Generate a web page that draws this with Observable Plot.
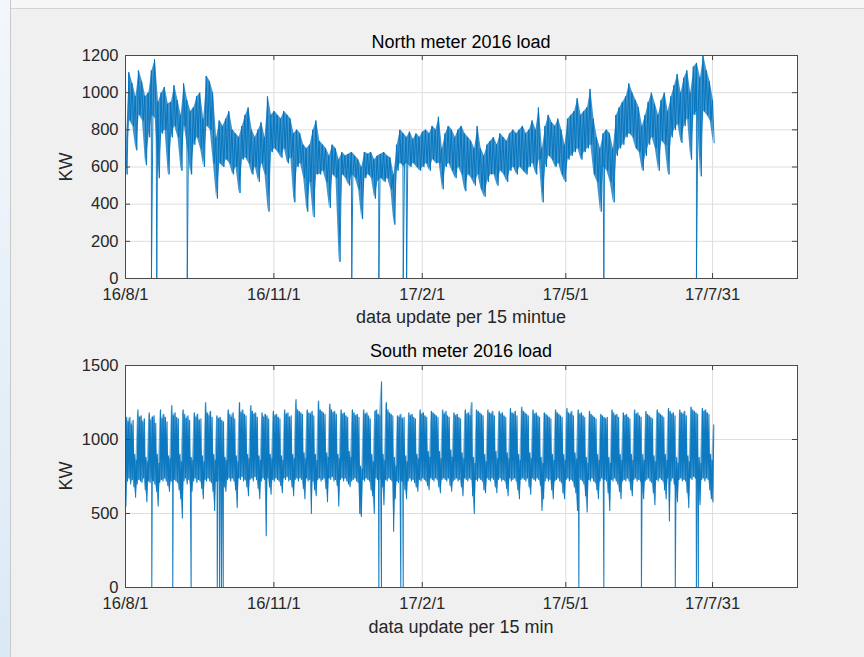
<!DOCTYPE html>
<html><head><meta charset="utf-8">
<script src="https://cdn.jsdelivr.net/npm/d3@7"></script>
<script src="https://cdn.jsdelivr.net/npm/@observablehq/plot@0.6"></script>
<style>
body{margin:0;width:864px;height:657px;overflow:hidden;background:#f0f0f0;font-family:"Liberation Sans",Arial,Helvetica,sans-serif;position:relative}
#desk{position:absolute;left:0;top:0;width:10px;height:657px;background:linear-gradient(#f3f7fb,#dbe9f5);border-right:1px solid #c9c9c9}
#topbar{position:absolute;left:11px;top:0;width:853px;height:8px;background:#f6f6f6;border-bottom:1px solid #d4d4d4}
.ttl{position:absolute;left:125px;width:672px;text-align:center;font-size:18px;line-height:18px;color:#000;white-space:nowrap}
.xl{position:absolute;left:125px;width:672px;text-align:center;font-size:18px;line-height:18px;color:#262626;white-space:nowrap}
.yl{position:absolute;left:16px;width:100px;text-align:center;font-size:18px;line-height:18px;color:#262626;transform:rotate(-90deg)}
.chart{position:absolute;left:0}
</style></head>
<body>
<div id="desk"></div><div id="topbar"></div>
<div class="ttl" style="top:33px">North meter 2016 load</div>
<div class="xl" style="top:308px">data update per 15 mintue</div>
<div class="yl" style="top:157.5px">KW</div>
<div class="ttl" style="top:342px">South meter 2016 load</div>
<div class="xl" style="top:618px">data update per 15 min</div>
<div class="yl" style="top:467px">KW</div>
<div id="north" class="chart" style="top:30px"></div>
<div id="south" class="chart" style="top:340px"></div>
<script>
// ---- data ----
const startDate = "2016-08-01";
const xLimitDays = 40000 / 96;           // axis limit (40000 samples of 15 min)
const tickDates = ["2016-08-01", "2016-11-01", "2017-02-01", "2017-05-01", "2017-07-31"];
const northTicks = [0, 200, 400, 600, 800, 1000, 1200];
const southTicks = [0, 500, 1000, 1500];

// North meter: every 2 days, daily peak (hi) then trough (lo), KW
const northHi = [
  720,1110,1050,980,1120,1060,980,1000,1120,1180,
  950,1000,1030,940,950,1040,960,880,1050,960,
  900,920,980,1000,860,1090,1060,1000,760,850,
  820,860,900,800,780,760,820,880,920,800,
  760,800,840,760,980,880,900,880,860,900,
  880,860,780,800,780,720,700,720,800,850,
  740,720,700,660,720,700,640,680,660,670,
  680,660,640,600,680,670,680,640,660,670,
  680,660,650,560,720,800,780,760,790,750,
  780,760,790,800,780,820,800,870,700,780,
  820,800,760,800,820,780,760,740,700,820,
  700,660,720,740,760,720,780,760,740,780,
  800,780,800,820,780,800,850,800,920,700,
  820,880,840,820,860,800,720,860,880,900,
  970,880,900,920,1020,860,760,700,780,800,
  780,700,880,920,950,980,1050,1000,960,920,
  820,880,950,1000,940,880,960,1000,900,980,
  1040,1100,1000,1080,1120,1000,1140,1160,1080,1200,
  1120,1060,960
];
const northLo = [
  560,850,820,690,880,850,610,760,880,860,
  540,780,800,560,760,820,760,580,820,700,
  560,720,760,700,600,820,800,620,430,620,
  600,640,620,560,600,460,640,650,620,560,
  600,520,620,560,360,680,700,680,650,700,
  620,650,410,600,620,540,360,520,330,560,
  560,580,520,380,560,540,90,560,540,500,
  560,540,480,320,540,560,540,430,520,540,
  520,540,480,290,580,620,600,620,600,620,
  600,580,600,620,580,640,620,620,480,600,
  620,580,540,600,560,470,560,540,500,560,
  480,440,520,560,560,500,580,560,520,580,
  600,560,600,580,560,600,620,560,640,410,
  600,660,640,600,620,560,520,640,660,680,
  700,640,680,700,720,560,520,360,600,580,
  520,410,660,700,720,760,780,760,700,680,
  580,660,720,760,700,580,740,720,560,760,
  800,830,730,820,860,640,880,900,550,900,
  880,850,730
];
// North drop-outs to 0 KW (day number since 2016-08-01)
const northDrops = [16.1, 19.4, 38.3, 140.3, 157.1, 172.2, 174.3, 296.6, 354.0];

// South meter: one row per week (Mon..Sun), daily peak (hi) and trough (lo), KW
const southHi = [
  1150,1120,1150,1100,1130,900,860,
  1200,1150,1160,1120,1140,880,850,
  1180,1130,1150,1160,1110,900,840,
  1200,1140,1170,1150,1120,890,870,
  1230,1160,1180,1150,1140,900,850,
  1200,1170,1140,1160,1130,880,860,
  1180,1150,1170,1130,1140,890,850,
  1250,1180,1160,1190,1150,900,860,
  1160,1140,1150,1130,1120,880,860,
  1200,1170,1150,1180,1140,890,850,
  1250,1180,1200,1170,1160,900,870,
  1230,1190,1170,1180,1150,890,860,
  1180,1150,1170,1160,1140,900,870,
  1190,1160,1170,1150,1140,890,860,
  1200,1170,1180,1150,1160,900,870,
  1270,1200,1190,1180,1170,910,870,
  1200,1180,1170,1190,1160,900,860,
  1260,1200,1190,1180,1170,910,880,
  1240,1200,1180,1190,1170,900,870,
  1200,1170,1180,1160,1150,920,880,
  1200,1180,1160,1170,1150,820,800,
  1200,1170,1180,1160,1140,900,850,
  1190,1200,1170,1160,1390,900,860,
  1250,1200,1180,1170,1160,880,820,
  1160,1150,1170,1140,1150,890,850,
  1180,1160,1170,1150,1140,900,870,
  1200,1170,1180,1160,1150,920,880,
  1190,1180,1170,1160,1150,920,870,
  1200,1170,1190,1160,1150,930,880,
  1180,1160,1170,1150,1140,910,870,
  1200,1170,1180,1160,1250,880,840,
  1200,1190,1180,1170,1160,900,850,
  1200,1180,1170,1190,1160,920,870,
  1190,1170,1180,1160,1150,910,870,
  1210,1180,1170,1190,1160,900,860,
  1220,1190,1180,1170,1160,910,870,
  1200,1170,1180,1160,1150,880,840,
  1180,1170,1160,1150,1140,900,860,
  1200,1180,1170,1160,1150,900,860,
  1210,1180,1170,1190,1160,910,870,
  1200,1170,1180,1160,1150,880,840,
  1190,1170,1160,1150,1140,900,860,
  1170,1160,1150,1140,1150,880,840,
  1200,1180,1160,1170,1150,900,860,
  1180,1160,1170,1150,1140,900,860,
  1200,1170,1180,1160,1150,900,860,
  1190,1170,1160,1150,1140,890,850,
  1200,1180,1170,1160,1150,900,860,
  1210,1190,1170,1180,1160,880,840,
  1200,1180,1170,1190,1160,890,850,
  1220,1200,1190,1180,1170,880,840,
  1210,1190,1200,1180,1170,900,860,
  1100
];
const southLo = [
  550,720,740,700,730,680,610,
  700,730,720,710,740,660,580,
  720,710,740,720,700,650,550,
  710,730,720,740,720,690,650,
  720,700,730,720,710,660,600,
  470,720,740,700,730,680,650,
  720,740,710,730,720,670,600,
  730,720,740,720,710,650,520,
  720,700,730,710,720,680,650,
  730,740,720,740,720,660,540,
  740,730,750,720,730,680,620,
  730,740,720,750,730,670,600,
  720,740,730,350,740,680,630,
  730,720,740,730,720,690,640,
  740,730,750,720,730,680,620,
  730,740,720,740,730,670,600,
  740,720,730,500,720,660,620,
  730,740,720,730,740,670,580,
  740,730,750,720,730,690,550,
  730,740,720,740,720,700,680,
  720,730,740,720,710,500,480,
  730,720,740,730,720,660,620,
  500,740,730,720,730,680,560,
  730,720,740,730,720,380,600,
  720,710,730,720,700,660,600,
  720,740,720,730,710,680,650,
  730,720,740,730,720,690,660,
  740,730,720,740,730,680,640,
  730,740,730,720,740,690,650,
  720,730,740,720,730,680,620,
  740,730,720,740,730,620,500,
  730,720,740,730,720,660,640,
  740,730,720,740,730,680,640,
  730,740,720,730,720,670,620,
  740,720,730,740,720,660,600,
  730,740,730,720,740,680,630,
  740,730,720,740,730,690,520,
  600,720,740,720,730,660,600,
  720,730,740,720,710,640,600,
  730,740,720,730,720,680,640,
  520,740,730,720,700,620,510,
  730,720,740,720,710,660,600,
  720,740,720,730,720,640,520,
  730,720,740,720,700,650,600,
  720,730,720,740,720,660,620,
  730,740,720,730,720,650,600,
  720,730,740,720,710,640,560,
  730,720,740,730,720,660,600,
  740,450,720,740,700,620,580,
  730,740,720,730,720,640,540,
  740,730,750,740,720,620,560,
  730,740,720,740,730,660,600,
  580
];
// South drop-outs to 0 KW (day number since 2016-08-01)
const southDrops = [16.3, 29.3, 40.7, 56.9, 58.3, 59.5, 60.6, 157.1, 158.7, 170.7, 172.2,
                    281.1, 296.6, 319.9, 340.9, 354.0, 355.2];

// ---- build ----
const DAY = 864e5;
const t0 = new Date(startDate).getTime();
function series(hi, lo, step, hiAt, loAt, drops) {
  const pts = [];
  hi.forEach((h, i) => {
    pts.push({t: i * step + hiAt, kw: h});
    pts.push({t: i * step + loAt, kw: lo[i]});
  });
  drops.forEach(t => pts.push({t, kw: 0}));
  pts.sort((a, b) => a.t - b.t);
  return pts.map(p => ({date: new Date(t0 + p.t * DAY), kw: p.kw}));
}
function band(hi, lo, step, at) {
  return hi.map((h, i) => ({date: new Date(t0 + (i * step + at) * DAY), hi: h, lo: lo[i]}));
}
const north = series(northHi, northLo, 2, 0, 1, northDrops);
const northBand = band(northHi, northLo, 2, 0.5);
const south = series(southHi, southLo, 1, 0.75, 0.25, southDrops);
const southBand = band(southHi, southLo, 1, 0.5);
const xTicks = tickDates.map(s => new Date(s));
const fmt = d => `${String(d.getUTCFullYear()).slice(2)}/${d.getUTCMonth() + 1}/${d.getUTCDate()}`;

function chart(points, core, coreOpacity, yTicks, yMax, marginBottom, sw) {
  const W = 864, H = 300, mL = 125, mR = 67, mT = 25;
  const fw = W - mL - mR, fh = H - mT - marginBottom, tl = 5;
  return Plot.plot({
    width: W, height: H, marginLeft: mL, marginRight: mR, marginTop: mT, marginBottom,
    style: {background: "transparent", fontFamily: '"Liberation Sans", Arial, Helvetica, sans-serif', fontSize: "16.5px", color: "#262626", overflow: "visible"},
    x: {type: "utc", domain: [new Date(t0), new Date(t0 + xLimitDays * DAY)]},
    y: {domain: [0, yMax]},
    marks: [
      Plot.frame({fill: "white", stroke: "none"}),
      Plot.gridX(xTicks, {stroke: "#dedede", strokeOpacity: 1}),
      Plot.gridY(yTicks, {stroke: "#dedede", strokeOpacity: 1}),
      Plot.areaY(core, {x: "date", y1: "lo", y2: "hi", fill: "#0072bd", fillOpacity: coreOpacity}),
      Plot.line(points, {x: "date", y: "kw", stroke: "#0072bd", strokeWidth: sw, strokeOpacity: 0.9}),
      Plot.tickX(xTicks, {x: d => d, insetTop: fh - tl, stroke: "#444"}),
      Plot.tickX(xTicks, {x: d => d, insetBottom: fh - tl, stroke: "#444"}),
      Plot.tickY(yTicks, {y: d => d, insetRight: fw - tl, stroke: "#444"}),
      Plot.tickY(yTicks, {y: d => d, insetLeft: fw - tl, stroke: "#444"}),
      Plot.axisX(xTicks, {tickSize: 0, tickPadding: 10, tickFormat: fmt, label: null, fontSize: 16.5}),
      Plot.axisY(yTicks, {tickSize: 0, tickPadding: 7, tickFormat: d => String(d), label: null, fontSize: 16.5}),
      Plot.frame({stroke: "#4a4a4a"})
    ]
  });
}
document.getElementById("north").append(chart(north, northBand, 0.75, northTicks, 1200, 52, 1.0));
document.getElementById("south").append(chart(south, southBand, 0.5, southTicks, 1500, 53, 1.1));
</script>
</body></html>
